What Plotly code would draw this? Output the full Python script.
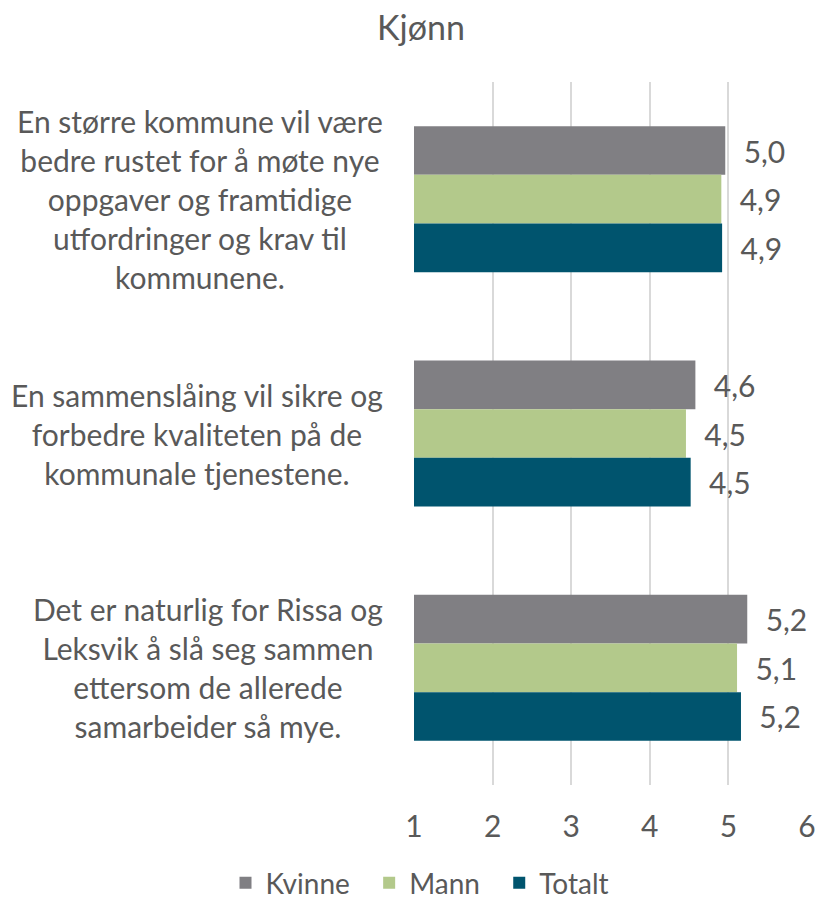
import plotly.graph_objects as go

categories = [
    "En større kommune vil være<br>bedre rustet for å møte nye<br>oppgaver og framtidige<br>utfordringer og krav til<br>kommunene.",
    "En sammenslåing vil sikre og<br>forbedre kvaliteten på de<br>kommunale tjenestene.",
    "Det er naturlig for Rissa og<br>Leksvik å slå seg sammen<br>ettersom de allerede<br>samarbeider så mye.",
]
cat_keys = ["c1", "c2", "c3"]
kvinne = [4.96, 4.58, 5.24]
mann = [4.91, 4.46, 5.11]
totalt = [4.92, 4.52, 5.16]
series_names = ["Kvinne", "Mann", "Totalt"]
series_colors = ["#807F83", "#B3C98B", "#00546E"]
x_ticks = [1, 2, 3, 4, 5, 6]
title = "Kjønn"

FONT = "Lato"
TXT = "#595959"
FS = 30


def fmt(v):
    return "\u00a0\u00a0" + f"{v:.1f}".replace(".", ",")


fig = go.Figure()
for i, (name, vals, col) in enumerate(zip(series_names, [kvinne, mann, totalt], series_colors)):
    shown = name + ("\u00a0\u00a0" if i < len(series_names) - 1 else "")
    fig.add_trace(go.Bar(
        name=shown, y=cat_keys, x=vals, base=0, orientation="h",
        marker=dict(color=col, line=dict(width=0)),
        text=[fmt(v) for v in vals], textposition="outside",
        textfont=dict(family=FONT, size=FS, color=TXT),
        cliponaxis=False,
    ))

for key, label in zip(cat_keys, categories):
    fig.add_annotation(
        x=-0.075, xref="paper", y=key, yref="y",
        text=label, showarrow=False, xanchor="right", yanchor="middle",
        align="center", font=dict(family=FONT, size=FS, color=TXT),
    )

fig.update_layout(
    width=819, height=901,
    margin=dict(l=414, r=12, t=82, b=116, autoexpand=False),
    paper_bgcolor="white", plot_bgcolor="white",
    barmode="group", bargap=0.377, bargroupgap=0,
    font=dict(family=FONT, size=FS, color=TXT),
    title=dict(text=title, x=421 / 819, xref="container", xanchor="center",
               y=1 - 28 / 901, yref="container", yanchor="middle",
               font=dict(family=FONT, size=34, color=TXT)),
    legend=dict(orientation="h", x=420 / 819, xref="container", xanchor="center",
                y=18 / 901, yref="container", yanchor="middle",
                font=dict(family=FONT, size=28, color=TXT), traceorder="normal",
                itemwidth=30),
    showlegend=True,
)
fig.update_xaxes(range=[1, 6], tickvals=x_ticks, ticktext=[str(t) for t in x_ticks],
                 showgrid=True, gridcolor="#D9D9D9", gridwidth=1.5,
                 zeroline=False, showline=False, ticks="", automargin=False,
                 ticklabelstandoff=21,
                 tickfont=dict(family=FONT, size=FS, color=TXT))
fig.update_yaxes(autorange="reversed", showticklabels=False, showgrid=False,
                 zeroline=False, showline=False, ticks="", automargin=False)

fig.write_html("out.html", config={"displayModeBar": False},
               post_script="document.body.style.margin='0';")
